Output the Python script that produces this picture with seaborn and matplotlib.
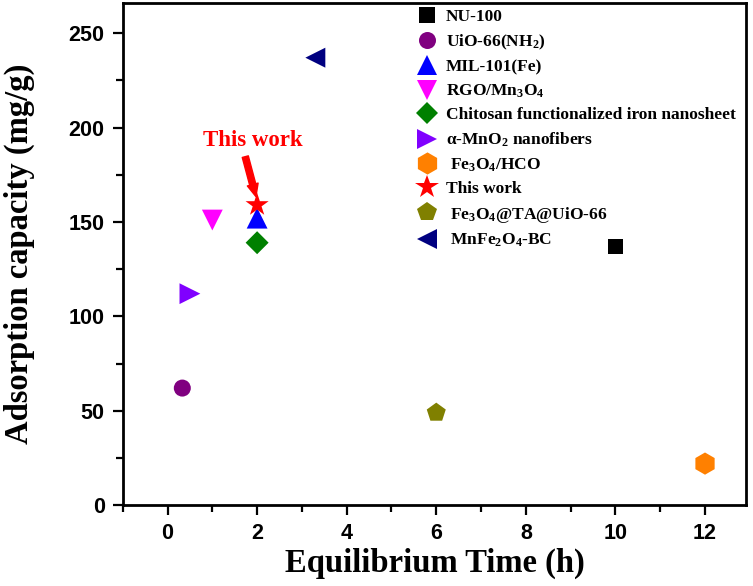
import pandas as pd
import matplotlib
matplotlib.use("Agg")
import matplotlib.pyplot as plt
import seaborn as sns

# data
materials = ["NU-100", "UiO-66(NH$_2$)", "MIL-101(Fe)", "RGO/Mn$_3$O$_4$",
             "Chitosan functionalized iron nanosheet", "α-MnO$_2$ nanofibers",
             " Fe$_3$O$_4$/HCO", "This work", " Fe$_3$O$_4$@TA@UiO-66", " MnFe$_2$O$_4$-BC"]
eq_time = [10, 0.33, 2, 1, 2, 0.5, 12, 2, 6, 3.3]
capacity = [137, 62, 152, 151, 139, 112, 22, 159, 49, 237]
colors = ["#000000", "#800080", "#0000FF", "#FF00FF", "#008000",
          "#8000FF", "#FF8000", "#FF0000", "#808000", "#000080"]
markers = ["s", "o", "^", "v", "D", ">", "h", "*", "p", "<"]
sizes = [121, 150, 225, 225, 137, 225, 256, 306, 207, 207]

df = pd.DataFrame({"Material": materials, "Time": eq_time, "Capacity": capacity})

sns.set_style("ticks", {"axes.edgecolor": "black", "text.color": "black", "axes.labelcolor": "black",
                        "xtick.color": "black", "ytick.color": "black"})
plt.rcParams["mathtext.fontset"] = "custom"
plt.rcParams["mathtext.rm"] = "Liberation Serif:bold"
plt.rcParams["mathtext.bf"] = "Liberation Serif:bold"
plt.rcParams["mathtext.default"] = "bf"

fig = plt.figure(figsize=(7.53, 5.86), dpi=100)
ax = fig.add_axes([0.163, 0.138, 0.828, 0.857])

sns.scatterplot(df, x="Time", y="Capacity", hue="Material", style="Material", size="Material",
                palette=dict(zip(materials, colors)), markers=dict(zip(materials, markers)),
                sizes=dict(zip(materials, sizes)), edgecolor="none", linewidth=0, ax=ax)

old = ax.get_legend()
handles = old.legend_handles
labels = [t.get_text() for t in old.get_texts()]
old.remove()
ax.legend(handles, labels, loc="upper left", bbox_to_anchor=(0.472, 0.991), frameon=False,
          borderaxespad=0, borderpad=0.1, handlelength=1.0, handletextpad=0.55,
          labelspacing=0.42, prop={"family": "Liberation Serif", "weight": "bold", "size": 12.5})

ax.set_xlim(-1, 12.92)
ax.set_ylim(0, 266)
ax.set_xticks(range(0, 13, 2))
ax.set_xticks(range(-1, 13, 1), minor=True)
ax.set_yticks(range(0, 251, 50))
ax.set_yticks(range(0, 266, 25), minor=True)

ax.tick_params(which="major", direction="out", length=7, width=1.6, pad=6)
ax.tick_params(which="minor", direction="out", length=5, width=1.6)
for lab in ax.get_xticklabels() + ax.get_yticklabels():
    lab.set_fontfamily("Liberation Sans")
    lab.set_fontweight("bold")
    lab.set_fontsize(15.5)
for sp in ax.spines.values():
    sp.set_visible(True)
    sp.set_linewidth(2)
    sp.set_color("black")

ax.set_xlabel("Equilibrium Time (h)", fontfamily="Liberation Serif", fontweight="bold", fontsize=23.5)
ax.set_ylabel("Adsorption capacity (mg/g)", fontfamily="Liberation Serif", fontweight="bold", fontsize=23.5)
ax.yaxis.set_label_coords(-0.141, 0.5)
ax.xaxis.set_label_coords(0.5, -0.085)

ax.annotate("", xy=(1.99, 162), xytext=(1.72, 186),
            arrowprops=dict(arrowstyle="simple,head_length=0.9,head_width=0.8,tail_width=0.45",
                            color="red"))
ax.text(1.9, 193, "This work", color="red", ha="center", va="center",
        fontfamily="Liberation Serif", fontweight="bold", fontsize=16.5)

plt.savefig("out.png", dpi=100)
